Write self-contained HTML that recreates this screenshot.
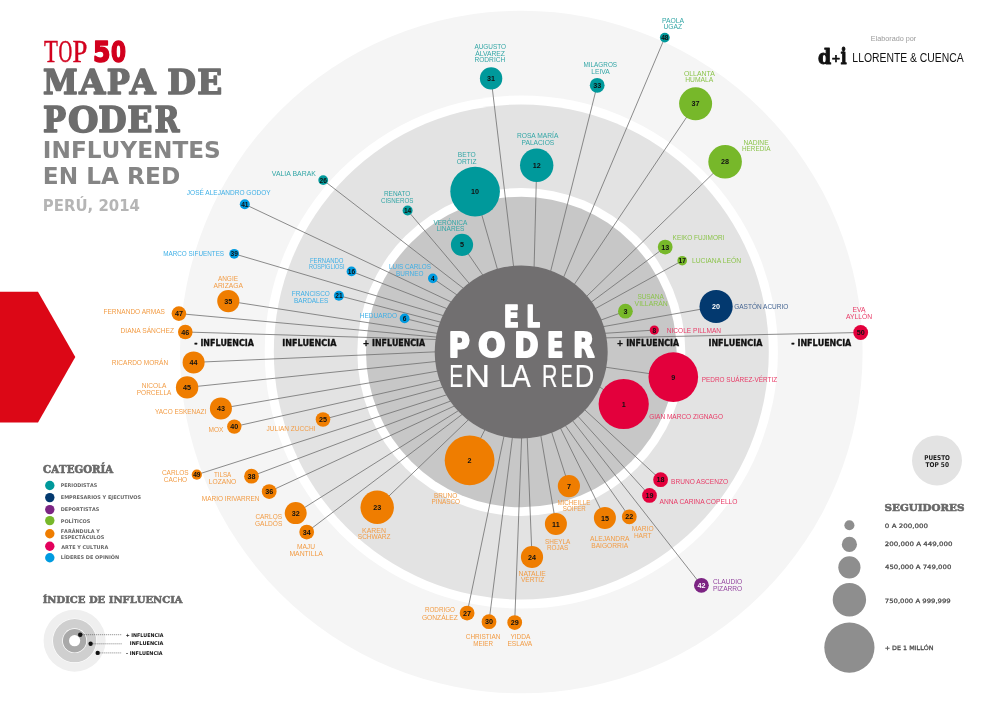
<!DOCTYPE html><html><head><meta charset="utf-8"><title>Mapa de Poder</title><style>html,body{margin:0;padding:0;background:#fff;}svg{display:block;will-change:transform}</style></head><body>
<svg width="1000" height="707" viewBox="0 0 1000 707">
<polygon points="0,291.8 38,291.8 75.3,357 38,422.5 0,422.5" fill="#dc0716"/>
<circle cx="521.3" cy="352" r="341.3" fill="#f5f5f5"/>
<circle cx="521.3" cy="352" r="256.6" fill="#ffffff"/>
<circle cx="521.3" cy="352" r="247.5" fill="#e3e3e3"/>
<circle cx="521.3" cy="352" r="164.0" fill="#ffffff"/>
<circle cx="521.3" cy="352" r="155.3" fill="#c7c7c7"/>
<g stroke="#6f6f6f" stroke-width="0.8" fill="none">
<line x1="491.1" y1="78.4" x2="514.5" y2="274.3"/>
<line x1="597.2" y1="85.3" x2="548.7" y2="279"/>
<line x1="664.8" y1="37.6" x2="560.5" y2="284.6"/>
<line x1="536.7" y1="165.3" x2="533.9" y2="275"/>
<line x1="475.1" y1="191.6" x2="499.7" y2="277.1"/>
<line x1="462" y1="244.8" x2="487.4" y2="281.8"/>
<line x1="407.6" y1="210.5" x2="474.5" y2="289.6"/>
<line x1="323.2" y1="180.1" x2="469.9" y2="293.3"/>
<line x1="695.6" y1="103.8" x2="569.9" y2="291"/>
<line x1="725.1" y1="161.8" x2="581" y2="301.8"/>
<line x1="665.2" y1="247.1" x2="584.9" y2="306.9"/>
<line x1="682.2" y1="260.7" x2="588.5" y2="312.4"/>
<line x1="625.4" y1="311.2" x2="593.6" y2="322.7"/>
<line x1="716.1" y1="306.5" x2="595.5" y2="328"/>
<line x1="654.3" y1="330.1" x2="597.2" y2="333.8"/>
<line x1="860.7" y1="332.5" x2="598" y2="338"/>
<line x1="673.3" y1="377.1" x2="598" y2="366.1"/>
<line x1="623.7" y1="404" x2="593.2" y2="382.2"/>
<line x1="660.6" y1="479.7" x2="579" y2="404.5"/>
<line x1="649.5" y1="495.4" x2="572.8" y2="410.6"/>
<line x1="701.4" y1="585.3" x2="567.8" y2="414.6"/>
<line x1="244.8" y1="204.3" x2="458.7" y2="305.5"/>
<line x1="234.2" y1="253.8" x2="451.1" y2="317.9"/>
<line x1="351.5" y1="271.4" x2="454.6" y2="311.6"/>
<line x1="338.9" y1="295.7" x2="448.4" y2="324.2"/>
<line x1="432.8" y1="278.4" x2="463.6" y2="299.5"/>
<line x1="404.6" y1="318.4" x2="446.8" y2="328.9"/>
<line x1="228.3" y1="301.1" x2="445.3" y2="334.6"/>
<line x1="178.9" y1="313.6" x2="444.6" y2="337.8"/>
<line x1="185.3" y1="332" x2="444.3" y2="339.7"/>
<line x1="193.6" y1="362.4" x2="443.3" y2="351.5"/>
<line x1="187.1" y1="387.4" x2="443.8" y2="360.7"/>
<line x1="220.9" y1="408.4" x2="445.4" y2="369.8"/>
<line x1="234.3" y1="426.6" x2="447.9" y2="378.5"/>
<line x1="323" y1="419.5" x2="450.6" y2="385"/>
<line x1="196.8" y1="474.7" x2="454.5" y2="392.3"/>
<line x1="251.5" y1="476.2" x2="458.4" y2="398.1"/>
<line x1="269.2" y1="491.6" x2="461.9" y2="402.5"/>
<line x1="295.7" y1="513.1" x2="465.3" y2="406.3"/>
<line x1="306.7" y1="532.1" x2="468.6" y2="409.5"/>
<line x1="377.2" y1="507.3" x2="474.2" y2="414.2"/>
<line x1="469.6" y1="460.3" x2="488.4" y2="422.7"/>
<line x1="568.9" y1="486.1" x2="549.3" y2="424.8"/>
<line x1="555.9" y1="523.9" x2="539.5" y2="427.8"/>
<line x1="532" y1="557" x2="526.9" y2="429.8"/>
<line x1="604.9" y1="517.9" x2="557.1" y2="421.3"/>
<line x1="629.3" y1="516.8" x2="560.9" y2="419.2"/>
<line x1="467.1" y1="613.1" x2="505.6" y2="428.4"/>
<line x1="489" y1="621.7" x2="513.4" y2="429.6"/>
<line x1="514.7" y1="622.6" x2="521.9" y2="430"/>
</g>
<circle cx="521.2" cy="351.9" r="86.5" fill="#716f70"/>
<circle cx="491.1" cy="78.4" r="11.2" fill="#00999b"/>
<circle cx="597.2" cy="85.3" r="7.4" fill="#00999b"/>
<circle cx="664.8" cy="37.6" r="4.9" fill="#00999b"/>
<circle cx="536.7" cy="165.3" r="16.7" fill="#00999b"/>
<circle cx="475.1" cy="191.6" r="24.8" fill="#00999b"/>
<circle cx="462" cy="244.8" r="11.1" fill="#00999b"/>
<circle cx="407.6" cy="210.5" r="5" fill="#00999b"/>
<circle cx="323.2" cy="180.1" r="4.9" fill="#00999b"/>
<circle cx="695.6" cy="103.8" r="16.5" fill="#77b82a"/>
<circle cx="725.1" cy="161.8" r="16.8" fill="#77b82a"/>
<circle cx="665.2" cy="247.1" r="7.4" fill="#77b82a"/>
<circle cx="682.2" cy="260.7" r="4.8" fill="#77b82a"/>
<circle cx="625.4" cy="311.2" r="7.4" fill="#77b82a"/>
<circle cx="716.1" cy="306.5" r="16.6" fill="#03396f"/>
<circle cx="654.3" cy="330.1" r="4.6" fill="#e3003c"/>
<circle cx="860.7" cy="332.5" r="7.4" fill="#e3003c"/>
<circle cx="673.3" cy="377.1" r="24.8" fill="#e3003c"/>
<circle cx="623.7" cy="404" r="25.1" fill="#e3003c"/>
<circle cx="660.6" cy="479.7" r="7.4" fill="#e3003c"/>
<circle cx="649.5" cy="495.4" r="7.4" fill="#e3003c"/>
<circle cx="701.4" cy="585.3" r="7.4" fill="#7c2483"/>
<circle cx="244.8" cy="204.3" r="5" fill="#009be0"/>
<circle cx="234.2" cy="253.8" r="4.9" fill="#009be0"/>
<circle cx="351.5" cy="271.4" r="4.9" fill="#009be0"/>
<circle cx="338.9" cy="295.7" r="5" fill="#009be0"/>
<circle cx="432.8" cy="278.4" r="4.8" fill="#009be0"/>
<circle cx="404.6" cy="318.4" r="4.9" fill="#009be0"/>
<circle cx="228.3" cy="301.1" r="11.1" fill="#ef7d00"/>
<circle cx="178.9" cy="313.6" r="7.3" fill="#ef7d00"/>
<circle cx="185.3" cy="332" r="7.3" fill="#ef7d00"/>
<circle cx="193.6" cy="362.4" r="11" fill="#ef7d00"/>
<circle cx="187.1" cy="387.4" r="11.2" fill="#ef7d00"/>
<circle cx="220.9" cy="408.4" r="11" fill="#ef7d00"/>
<circle cx="234.3" cy="426.6" r="7.2" fill="#ef7d00"/>
<circle cx="323" cy="419.5" r="7.3" fill="#ef7d00"/>
<circle cx="196.8" cy="474.7" r="5.1" fill="#ef7d00"/>
<circle cx="251.5" cy="476.2" r="7.4" fill="#ef7d00"/>
<circle cx="269.2" cy="491.6" r="7.4" fill="#ef7d00"/>
<circle cx="295.7" cy="513.1" r="11" fill="#ef7d00"/>
<circle cx="306.7" cy="532.1" r="7.4" fill="#ef7d00"/>
<circle cx="377.2" cy="507.3" r="16.7" fill="#ef7d00"/>
<circle cx="469.6" cy="460.3" r="24.9" fill="#ef7d00"/>
<circle cx="568.9" cy="486.1" r="11.1" fill="#ef7d00"/>
<circle cx="555.9" cy="523.9" r="11" fill="#ef7d00"/>
<circle cx="532" cy="557" r="11.1" fill="#ef7d00"/>
<circle cx="604.9" cy="517.9" r="11" fill="#ef7d00"/>
<circle cx="629.3" cy="516.8" r="7.4" fill="#ef7d00"/>
<circle cx="467.1" cy="613.1" r="7.4" fill="#ef7d00"/>
<circle cx="489" cy="621.7" r="7.4" fill="#ef7d00"/>
<circle cx="514.7" cy="622.6" r="7.4" fill="#ef7d00"/>
<g font-family="Liberation Sans, Arial, sans-serif" font-weight="bold" text-anchor="middle">
<text x="491.1" y="81" font-size="7.2" fill="#111">31</text>
<text x="597.2" y="87.9" font-size="7.2" fill="#111">33</text>
<text x="664.8" y="40" font-size="6.6" fill="#111">48</text>
<text x="536.7" y="167.9" font-size="7.2" fill="#111">12</text>
<text x="475.1" y="194.2" font-size="7.2" fill="#111">10</text>
<text x="462" y="247.4" font-size="7.2" fill="#111">5</text>
<text x="407.6" y="212.9" font-size="6.6" fill="#111">14</text>
<text x="323.2" y="182.5" font-size="6.6" fill="#111">26</text>
<text x="695.6" y="106.4" font-size="7.2" fill="#111">37</text>
<text x="725.1" y="164.4" font-size="7.2" fill="#111">28</text>
<text x="665.2" y="249.7" font-size="7.2" fill="#111">13</text>
<text x="682.2" y="263.1" font-size="6.6" fill="#111">17</text>
<text x="625.4" y="313.8" font-size="7.2" fill="#111">3</text>
<text x="716.1" y="309.1" font-size="7.2" fill="#ffffff">20</text>
<text x="654.3" y="332.5" font-size="6.6" fill="#111">8</text>
<text x="860.7" y="335.1" font-size="7.2" fill="#111">50</text>
<text x="673.3" y="379.7" font-size="7.2" fill="#111">9</text>
<text x="623.7" y="406.6" font-size="7.2" fill="#111">1</text>
<text x="660.6" y="482.3" font-size="7.2" fill="#111">18</text>
<text x="649.5" y="498" font-size="7.2" fill="#111">19</text>
<text x="701.4" y="587.9" font-size="7.2" fill="#ffffff">42</text>
<text x="244.8" y="206.7" font-size="6.6" fill="#111">41</text>
<text x="234.2" y="256.2" font-size="6.6" fill="#111">39</text>
<text x="351.5" y="273.8" font-size="6.6" fill="#111">16</text>
<text x="338.9" y="298.1" font-size="6.6" fill="#111">21</text>
<text x="432.8" y="280.8" font-size="6.6" fill="#111">4</text>
<text x="404.6" y="320.8" font-size="6.6" fill="#111">6</text>
<text x="228.3" y="303.7" font-size="7.2" fill="#111">35</text>
<text x="178.9" y="316.2" font-size="7.2" fill="#111">47</text>
<text x="185.3" y="334.6" font-size="7.2" fill="#111">46</text>
<text x="193.6" y="365" font-size="7.2" fill="#111">44</text>
<text x="187.1" y="390" font-size="7.2" fill="#111">45</text>
<text x="220.9" y="411" font-size="7.2" fill="#111">43</text>
<text x="234.3" y="429.2" font-size="7.2" fill="#111">40</text>
<text x="323" y="422.1" font-size="7.2" fill="#111">25</text>
<text x="196.8" y="477.1" font-size="6.6" fill="#111">49</text>
<text x="251.5" y="478.8" font-size="7.2" fill="#111">38</text>
<text x="269.2" y="494.2" font-size="7.2" fill="#111">36</text>
<text x="295.7" y="515.7" font-size="7.2" fill="#111">32</text>
<text x="306.7" y="534.7" font-size="7.2" fill="#111">34</text>
<text x="377.2" y="509.9" font-size="7.2" fill="#111">23</text>
<text x="469.6" y="462.9" font-size="7.2" fill="#111">2</text>
<text x="568.9" y="488.7" font-size="7.2" fill="#111">7</text>
<text x="555.9" y="526.5" font-size="7.2" fill="#111">11</text>
<text x="532" y="559.6" font-size="7.2" fill="#111">24</text>
<text x="604.9" y="520.5" font-size="7.2" fill="#111">15</text>
<text x="629.3" y="519.4" font-size="7.2" fill="#111">22</text>
<text x="467.1" y="615.7" font-size="7.2" fill="#111">27</text>
<text x="489" y="624.3" font-size="7.2" fill="#111">30</text>
<text x="514.7" y="625.2" font-size="7.2" fill="#111">29</text>
</g>
<g font-family="Liberation Sans, Arial, sans-serif" font-size="6.6">
<text x="474.4" y="48.8" textLength="31.7" lengthAdjust="spacingAndGlyphs" fill="#33a6a6">AUGUSTO</text>
<text x="475.2" y="56" textLength="29.8" lengthAdjust="spacingAndGlyphs" fill="#33a6a6">ÁLVAREZ</text>
<text x="474.4" y="62.4" textLength="30.9" lengthAdjust="spacingAndGlyphs" fill="#33a6a6">RODRICH</text>
<text x="583.5" y="66.9" textLength="33.6" lengthAdjust="spacingAndGlyphs" fill="#33a6a6">MILAGROS</text>
<text x="591.2" y="73.6" textLength="18.6" lengthAdjust="spacingAndGlyphs" fill="#33a6a6">LEIVA</text>
<text x="661.9" y="22.6" textLength="22.1" lengthAdjust="spacingAndGlyphs" fill="#33a6a6">PAOLA</text>
<text x="663.5" y="29.2" textLength="18.7" lengthAdjust="spacingAndGlyphs" fill="#33a6a6">UGAZ</text>
<text x="516.9" y="137.8" textLength="41.5" lengthAdjust="spacingAndGlyphs" fill="#33a6a6">ROSA MARÍA</text>
<text x="521.5" y="144.5" textLength="32.8" lengthAdjust="spacingAndGlyphs" fill="#33a6a6">PALACIOS</text>
<text x="457.8" y="156.7" textLength="18" lengthAdjust="spacingAndGlyphs" fill="#33a6a6">BETO</text>
<text x="456.8" y="163.7" textLength="19.7" lengthAdjust="spacingAndGlyphs" fill="#33a6a6">ORTIZ</text>
<text x="433.4" y="224.6" textLength="33.9" lengthAdjust="spacingAndGlyphs" fill="#33a6a6">VERÓNICA</text>
<text x="436.4" y="231.2" textLength="28.1" lengthAdjust="spacingAndGlyphs" fill="#33a6a6">LINARES</text>
<text x="383.9" y="196" textLength="26.5" lengthAdjust="spacingAndGlyphs" fill="#33a6a6">RENATO</text>
<text x="380.9" y="203" textLength="32.5" lengthAdjust="spacingAndGlyphs" fill="#33a6a6">CISNEROS</text>
<text x="271.8" y="176.4" textLength="44.1" lengthAdjust="spacingAndGlyphs" fill="#33a6a6">VALIA BARAK</text>
<text x="683.9" y="75.8" textLength="30.9" lengthAdjust="spacingAndGlyphs" fill="#8cc44c">OLLANTA</text>
<text x="685.2" y="82.4" textLength="28.1" lengthAdjust="spacingAndGlyphs" fill="#8cc44c">HUMALA</text>
<text x="743.5" y="144.7" textLength="25.1" lengthAdjust="spacingAndGlyphs" fill="#8cc44c">NADINE</text>
<text x="742" y="151.4" textLength="28.4" lengthAdjust="spacingAndGlyphs" fill="#8cc44c">HEREDIA</text>
<text x="672.6" y="239.9" textLength="51.8" lengthAdjust="spacingAndGlyphs" fill="#8cc44c">KEIKO FUJIMORI</text>
<text x="692" y="263" textLength="49.1" lengthAdjust="spacingAndGlyphs" fill="#8cc44c">LUCIANA LEÓN</text>
<text x="637.4" y="299.2" textLength="26.4" lengthAdjust="spacingAndGlyphs" fill="#8cc44c">SUSANA</text>
<text x="634.6" y="305.9" textLength="33.1" lengthAdjust="spacingAndGlyphs" fill="#8cc44c">VILLARÁN</text>
<text x="734.2" y="309.1" textLength="54.2" lengthAdjust="spacingAndGlyphs" fill="#456592">GASTÓN ACURIO</text>
<text x="666.8" y="333" textLength="54.3" lengthAdjust="spacingAndGlyphs" fill="#e83a66">NICOLE PILLMAN</text>
<text x="852.5" y="312.4" textLength="13" lengthAdjust="spacingAndGlyphs" fill="#e83a66">EVA</text>
<text x="846" y="319.3" textLength="26" lengthAdjust="spacingAndGlyphs" fill="#e83a66">AYLLÓN</text>
<text x="701.8" y="381.5" textLength="75.4" lengthAdjust="spacingAndGlyphs" fill="#e83a66">PEDRO SUÁREZ-VÉRTIZ</text>
<text x="649.2" y="419.2" textLength="73.8" lengthAdjust="spacingAndGlyphs" fill="#e83a66">GIAN MARCO ZIGNAGO</text>
<text x="671.1" y="484.2" textLength="56.9" lengthAdjust="spacingAndGlyphs" fill="#e83a66">BRUNO ASCENZO</text>
<text x="659.5" y="503.5" textLength="78" lengthAdjust="spacingAndGlyphs" fill="#e83a66">ANNA CARINA COPELLO</text>
<text x="712.9" y="583.6" textLength="29.3" lengthAdjust="spacingAndGlyphs" fill="#9446a0">CLAUDIO</text>
<text x="712.9" y="590.6" textLength="29.3" lengthAdjust="spacingAndGlyphs" fill="#9446a0">PIZARRO</text>
<text x="186.8" y="194.6" textLength="83.9" lengthAdjust="spacingAndGlyphs" fill="#3eafe6">JOSÉ ALEJANDRO GODOY</text>
<text x="163.2" y="256.1" textLength="60.9" lengthAdjust="spacingAndGlyphs" fill="#3eafe6">MARCO SIFUENTES</text>
<text x="309.9" y="262.5" textLength="33.6" lengthAdjust="spacingAndGlyphs" fill="#3eafe6">FERNANDO</text>
<text x="308.9" y="269.1" textLength="35.7" lengthAdjust="spacingAndGlyphs" fill="#3eafe6">ROSPIGLIOSI</text>
<text x="291.8" y="296.1" textLength="38.1" lengthAdjust="spacingAndGlyphs" fill="#3eafe6">FRANCISCO</text>
<text x="293.9" y="302.5" textLength="34.4" lengthAdjust="spacingAndGlyphs" fill="#3eafe6">BARDALES</text>
<text x="389.1" y="269.1" textLength="41.9" lengthAdjust="spacingAndGlyphs" fill="#3eafe6">LUIS CARLOS</text>
<text x="396.1" y="275.8" textLength="27.4" lengthAdjust="spacingAndGlyphs" fill="#3eafe6">BURNEO</text>
<text x="359.8" y="317.8" textLength="37.3" lengthAdjust="spacingAndGlyphs" fill="#3eafe6">HEDUARDO</text>
<text x="217.9" y="281.4" textLength="20.1" lengthAdjust="spacingAndGlyphs" fill="#f29c45">ANGIE</text>
<text x="213.4" y="288" textLength="29.6" lengthAdjust="spacingAndGlyphs" fill="#f29c45">ARIZAGA</text>
<text x="103.5" y="314.4" textLength="61.4" lengthAdjust="spacingAndGlyphs" fill="#f29c45">FERNANDO ARMAS</text>
<text x="120.5" y="333.3" textLength="53.5" lengthAdjust="spacingAndGlyphs" fill="#f29c45">DIANA SÁNCHEZ</text>
<text x="111.8" y="365.2" textLength="56.3" lengthAdjust="spacingAndGlyphs" fill="#f29c45">RICARDO MORÁN</text>
<text x="141.8" y="388.3" textLength="24.5" lengthAdjust="spacingAndGlyphs" fill="#f29c45">NICOLA</text>
<text x="136.8" y="395" textLength="34.5" lengthAdjust="spacingAndGlyphs" fill="#f29c45">PORCELLA</text>
<text x="154.9" y="413.8" textLength="51.4" lengthAdjust="spacingAndGlyphs" fill="#f29c45">YACO ESKENAZI</text>
<text x="208.6" y="432.3" textLength="14.8" lengthAdjust="spacingAndGlyphs" fill="#f29c45">MOX</text>
<text x="266.6" y="430.8" textLength="48.9" lengthAdjust="spacingAndGlyphs" fill="#f29c45">JULIAN ZUCCHI</text>
<text x="161.9" y="475.1" textLength="26.8" lengthAdjust="spacingAndGlyphs" fill="#f29c45">CARLOS</text>
<text x="163.8" y="481.6" textLength="23.3" lengthAdjust="spacingAndGlyphs" fill="#f29c45">CACHO</text>
<text x="213.9" y="477.1" textLength="17.4" lengthAdjust="spacingAndGlyphs" fill="#f29c45">TILSA</text>
<text x="208.8" y="483.9" textLength="27.4" lengthAdjust="spacingAndGlyphs" fill="#f29c45">LOZANO</text>
<text x="201.8" y="501.2" textLength="57.6" lengthAdjust="spacingAndGlyphs" fill="#f29c45">MARIO IRIVARREN</text>
<text x="255.4" y="518.8" textLength="26.6" lengthAdjust="spacingAndGlyphs" fill="#f29c45">CARLOS</text>
<text x="254.9" y="525.7" textLength="27.5" lengthAdjust="spacingAndGlyphs" fill="#f29c45">GALDÓS</text>
<text x="296.9" y="548.5" textLength="18.1" lengthAdjust="spacingAndGlyphs" fill="#f29c45">MAJU</text>
<text x="289.4" y="555.5" textLength="33.5" lengthAdjust="spacingAndGlyphs" fill="#f29c45">MANTILLA</text>
<text x="362.1" y="532.7" textLength="23.8" lengthAdjust="spacingAndGlyphs" fill="#f29c45">KAREN</text>
<text x="357.8" y="539.2" textLength="32.7" lengthAdjust="spacingAndGlyphs" fill="#f29c45">SCHWARZ</text>
<text x="434.1" y="497.6" textLength="23" lengthAdjust="spacingAndGlyphs" fill="#f29c45">BRUNO</text>
<text x="431.4" y="504.4" textLength="28.7" lengthAdjust="spacingAndGlyphs" fill="#f29c45">PINASCO</text>
<text x="557.4" y="504.8" textLength="32.9" lengthAdjust="spacingAndGlyphs" fill="#f29c45">MICHEILLE</text>
<text x="562.8" y="511.1" textLength="23" lengthAdjust="spacingAndGlyphs" fill="#f29c45">SOIFER</text>
<text x="545.1" y="544" textLength="25.3" lengthAdjust="spacingAndGlyphs" fill="#f29c45">SHEYLA</text>
<text x="547" y="550.1" textLength="21.2" lengthAdjust="spacingAndGlyphs" fill="#f29c45">ROJAS</text>
<text x="518.6" y="576" textLength="27.2" lengthAdjust="spacingAndGlyphs" fill="#f29c45">NATALIE</text>
<text x="521" y="582.4" textLength="23.2" lengthAdjust="spacingAndGlyphs" fill="#f29c45">VÉRTIZ</text>
<text x="590.1" y="540.8" textLength="39.4" lengthAdjust="spacingAndGlyphs" fill="#f29c45">ALEJANDRA</text>
<text x="591.2" y="547.5" textLength="37" lengthAdjust="spacingAndGlyphs" fill="#f29c45">BAIGORRIA</text>
<text x="631.8" y="530.9" textLength="21.8" lengthAdjust="spacingAndGlyphs" fill="#f29c45">MARIO</text>
<text x="633.9" y="537.6" textLength="17.6" lengthAdjust="spacingAndGlyphs" fill="#f29c45">HART</text>
<text x="424.9" y="612.4" textLength="30.1" lengthAdjust="spacingAndGlyphs" fill="#f29c45">RODRIGO</text>
<text x="421.9" y="619.5" textLength="36" lengthAdjust="spacingAndGlyphs" fill="#f29c45">GONZÁLEZ</text>
<text x="465.8" y="639" textLength="34.7" lengthAdjust="spacingAndGlyphs" fill="#f29c45">CHRISTIAN</text>
<text x="473.2" y="645.5" textLength="19.8" lengthAdjust="spacingAndGlyphs" fill="#f29c45">MEIER</text>
<text x="510.4" y="639" textLength="20" lengthAdjust="spacingAndGlyphs" fill="#f29c45">YIDDA</text>
<text x="507.4" y="645.5" textLength="24.9" lengthAdjust="spacingAndGlyphs" fill="#f29c45">ESLAVA</text>
</g>
<text transform="translate(194.35 345.82) scale(0.9557 1)" font-family="DejaVu Sans, sans-serif" font-weight="bold" font-size="8.299" fill="#111111" style="font-kerning:none" stroke="#111111" stroke-width="0.35" stroke-linejoin="round">- INFLUENCIA</text>
<text transform="translate(282.24 345.82) scale(0.9693 1)" font-family="DejaVu Sans, sans-serif" font-weight="bold" font-size="8.299" fill="#111111" style="font-kerning:none" stroke="#111111" stroke-width="0.35" stroke-linejoin="round">INFLUENCIA</text>
<text transform="translate(362.74 345.82) scale(0.9504 1)" font-family="DejaVu Sans, sans-serif" font-weight="bold" font-size="8.299" fill="#111111" style="font-kerning:none" stroke="#111111" stroke-width="0.35" stroke-linejoin="round">+ INFLUENCIA</text>
<text transform="translate(616.84 345.82) scale(0.9458 1)" font-family="DejaVu Sans, sans-serif" font-weight="bold" font-size="8.299" fill="#111111" style="font-kerning:none" stroke="#111111" stroke-width="0.35" stroke-linejoin="round">+ INFLUENCIA</text>
<text transform="translate(708.44 345.82) scale(0.9657 1)" font-family="DejaVu Sans, sans-serif" font-weight="bold" font-size="8.299" fill="#111111" style="font-kerning:none" stroke="#111111" stroke-width="0.35" stroke-linejoin="round">INFLUENCIA</text>
<text transform="translate(791.34 345.82) scale(0.9638 1)" font-family="DejaVu Sans, sans-serif" font-weight="bold" font-size="8.299" fill="#111111" style="font-kerning:none" stroke="#111111" stroke-width="0.35" stroke-linejoin="round">- INFLUENCIA</text>
<g>
<text transform="translate(503.64 327.20) scale(0.7628 1)" font-family="DejaVu Sans, sans-serif" font-weight="bold" font-size="29.355" fill="#ffffff" style="font-kerning:none" stroke="#ffffff" stroke-width="1.60" stroke-linejoin="round">E</text>
<text transform="translate(526.22 327.20) scale(0.7365 1)" font-family="DejaVu Sans, sans-serif" font-weight="bold" font-size="29.355" fill="#ffffff" style="font-kerning:none" stroke="#ffffff" stroke-width="1.60" stroke-linejoin="round">L</text>
<text transform="translate(448.62 356.80) scale(0.8858 1)" font-family="DejaVu Sans, sans-serif" font-weight="bold" font-size="32.922" fill="#ffffff" style="font-kerning:none" stroke="#ffffff" stroke-width="2.00" stroke-linejoin="round">P</text>
<text transform="translate(477.99 356.80) scale(0.9842 1)" font-family="DejaVu Sans, sans-serif" font-weight="bold" font-size="32.922" fill="#ffffff" style="font-kerning:none" stroke="#ffffff" stroke-width="2.00" stroke-linejoin="round">O</text>
<text transform="translate(514.21 356.80) scale(0.8900 1)" font-family="DejaVu Sans, sans-serif" font-weight="bold" font-size="32.922" fill="#ffffff" style="font-kerning:none" stroke="#ffffff" stroke-width="2.00" stroke-linejoin="round">D</text>
<text transform="translate(547.00 356.80) scale(0.7270 1)" font-family="DejaVu Sans, sans-serif" font-weight="bold" font-size="32.922" fill="#ffffff" style="font-kerning:none" stroke="#ffffff" stroke-width="2.00" stroke-linejoin="round">E</text>
<text transform="translate(572.93 356.80) scale(0.8491 1)" font-family="DejaVu Sans, sans-serif" font-weight="bold" font-size="32.922" fill="#ffffff" style="font-kerning:none" stroke="#ffffff" stroke-width="2.00" stroke-linejoin="round">R</text>
<text transform="translate(449.37 387.20) scale(0.6548 1)" font-family="Liberation Sans, sans-serif" font-weight="normal" font-size="32.123" fill="#ffffff" style="font-kerning:none" stroke="#ffffff" stroke-width="0.20" stroke-linejoin="round">E</text>
<text transform="translate(464.39 387.20) scale(1.1035 1)" font-family="Liberation Sans, sans-serif" font-weight="normal" font-size="32.123" fill="#ffffff" style="font-kerning:none" stroke="#ffffff" stroke-width="0.20" stroke-linejoin="round">N</text>
<text transform="translate(499.73 387.20) scale(0.7484 1)" font-family="Liberation Sans, sans-serif" font-weight="normal" font-size="32.123" fill="#ffffff" style="font-kerning:none" stroke="#ffffff" stroke-width="0.20" stroke-linejoin="round">L</text>
<text transform="translate(511.84 387.20) scale(0.8873 1)" font-family="Liberation Sans, sans-serif" font-weight="normal" font-size="32.123" fill="#ffffff" style="font-kerning:none" stroke="#ffffff" stroke-width="0.20" stroke-linejoin="round">A</text>
<text transform="translate(542.05 387.20) scale(0.6659 1)" font-family="Liberation Sans, sans-serif" font-weight="normal" font-size="32.123" fill="#ffffff" style="font-kerning:none" stroke="#ffffff" stroke-width="0.20" stroke-linejoin="round">R</text>
<text transform="translate(560.82 387.20) scale(0.5629 1)" font-family="Liberation Sans, sans-serif" font-weight="normal" font-size="32.123" fill="#ffffff" style="font-kerning:none" stroke="#ffffff" stroke-width="0.20" stroke-linejoin="round">E</text>
<text transform="translate(574.78 387.20) scale(0.8410 1)" font-family="Liberation Sans, sans-serif" font-weight="normal" font-size="32.123" fill="#ffffff" style="font-kerning:none" stroke="#ffffff" stroke-width="0.20" stroke-linejoin="round">D</text>
</g>
<text transform="translate(44.04 62.25) scale(0.7123 1)" font-family="Liberation Serif, serif" font-weight="normal" font-size="31.919" fill="#d2001e" style="font-kerning:none" stroke="#d2001e" stroke-width="0.50" stroke-linejoin="round">T</text>
<text transform="translate(58.57 62.25) scale(0.5971 1)" font-family="Liberation Serif, serif" font-weight="normal" font-size="31.919" fill="#d2001e" style="font-kerning:none" stroke="#d2001e" stroke-width="0.50" stroke-linejoin="round">O</text>
<text transform="translate(72.58 62.25) scale(0.8358 1)" font-family="Liberation Serif, serif" font-weight="normal" font-size="31.919" fill="#d2001e" style="font-kerning:none" stroke="#d2001e" stroke-width="0.50" stroke-linejoin="round">P</text>
<text transform="translate(93.06 61.80) scale(0.8813 1)" font-family="DejaVu Sans, sans-serif" font-weight="bold" font-size="28.532" fill="#d2001e" style="font-kerning:none" stroke="#d2001e" stroke-width="1.60" stroke-linejoin="round">5</text>
<text transform="translate(111.07 61.80) scale(0.7534 1)" font-family="DejaVu Sans, sans-serif" font-weight="bold" font-size="28.532" fill="#d2001e" style="font-kerning:none" stroke="#d2001e" stroke-width="1.60" stroke-linejoin="round">0</text>
<text transform="translate(43.08 94.20) scale(0.9174 1)" font-family="DejaVu Serif, serif" font-weight="bold" font-size="34.156" fill="#6d6d6d" style="font-kerning:none" stroke="#6d6d6d" stroke-width="1.60" stroke-linejoin="round">M</text>
<text transform="translate(79.16 94.20) scale(0.9834 1)" font-family="DejaVu Serif, serif" font-weight="bold" font-size="34.156" fill="#6d6d6d" style="font-kerning:none" stroke="#6d6d6d" stroke-width="1.60" stroke-linejoin="round">A</text>
<text transform="translate(106.66 94.20) scale(0.8996 1)" font-family="DejaVu Serif, serif" font-weight="bold" font-size="34.156" fill="#6d6d6d" style="font-kerning:none" stroke="#6d6d6d" stroke-width="1.60" stroke-linejoin="round">P</text>
<text transform="translate(129.66 94.20) scale(0.9760 1)" font-family="DejaVu Serif, serif" font-weight="bold" font-size="34.156" fill="#6d6d6d" style="font-kerning:none" stroke="#6d6d6d" stroke-width="1.60" stroke-linejoin="round">A</text>
<text transform="translate(167.35 94.20) scale(0.9667 1)" font-family="DejaVu Serif, serif" font-weight="bold" font-size="34.156" fill="#6d6d6d" style="font-kerning:none" stroke="#6d6d6d" stroke-width="1.60" stroke-linejoin="round">D</text>
<text transform="translate(197.37 94.20) scale(0.9567 1)" font-family="DejaVu Serif, serif" font-weight="bold" font-size="34.156" fill="#6d6d6d" style="font-kerning:none" stroke="#6d6d6d" stroke-width="1.60" stroke-linejoin="round">E</text>
<text transform="translate(42.96 132.00) scale(0.8889 1)" font-family="DejaVu Serif, serif" font-weight="bold" font-size="34.568" fill="#6d6d6d" style="font-kerning:none" stroke="#6d6d6d" stroke-width="1.60" stroke-linejoin="round">P</text>
<text transform="translate(67.93 132.00) scale(1.0120 1)" font-family="DejaVu Serif, serif" font-weight="bold" font-size="34.568" fill="#6d6d6d" style="font-kerning:none" stroke="#6d6d6d" stroke-width="1.60" stroke-linejoin="round">O</text>
<text transform="translate(98.17 132.00) scale(0.9441 1)" font-family="DejaVu Serif, serif" font-weight="bold" font-size="34.568" fill="#6d6d6d" style="font-kerning:none" stroke="#6d6d6d" stroke-width="1.60" stroke-linejoin="round">D</text>
<text transform="translate(127.35 132.00) scale(0.9584 1)" font-family="DejaVu Serif, serif" font-weight="bold" font-size="34.568" fill="#6d6d6d" style="font-kerning:none" stroke="#6d6d6d" stroke-width="1.60" stroke-linejoin="round">E</text>
<text transform="translate(154.49 132.00) scale(0.8678 1)" font-family="DejaVu Serif, serif" font-weight="bold" font-size="34.568" fill="#6d6d6d" style="font-kerning:none" stroke="#6d6d6d" stroke-width="1.60" stroke-linejoin="round">R</text>
<text transform="translate(42.87 157.80) scale(1.0071 1)" font-family="DejaVu Sans, sans-serif" font-weight="bold" font-size="23.045" fill="#858585" style="font-kerning:none">INFLUYENTES</text>
<text transform="translate(42.87 184.20) scale(1.0144 1)" font-family="DejaVu Sans, sans-serif" font-weight="bold" font-size="22.908" fill="#858585" style="font-kerning:none">EN LA RED</text>
<text transform="translate(42.83 210.50) scale(0.9629 1)" font-family="DejaVu Sans, sans-serif" font-weight="bold" font-size="15.501" fill="#b5b5b5" style="font-kerning:none">PERÚ, 2014</text>
<text transform="translate(870.70 40.60) scale(1.0195 1)" font-family="Liberation Sans, sans-serif" font-weight="normal" font-size="7.122" fill="#9a9a9a" style="font-kerning:none">Elaborado por</text>
<text transform="translate(818.12 64.00) scale(0.8921 1)" font-family="DejaVu Serif, serif" font-weight="bold" font-size="21.191" fill="#111111" stroke="#111111" stroke-width="1.00" stroke-linejoin="round">d</text>
<text transform="translate(831.32 62.30) scale(1.0016 1)" font-family="DejaVu Sans, sans-serif" font-weight="bold" font-size="11.165" fill="#111111" stroke="#111111" stroke-width="0.60" stroke-linejoin="round">+</text>
<text transform="translate(840.44 64.40) scale(0.7562 1)" font-family="DejaVu Serif, serif" font-weight="bold" font-size="21.849" fill="#111111" stroke="#111111" stroke-width="0.80" stroke-linejoin="round">i</text>
<text transform="translate(852.35 61.60) scale(0.8721 1)" font-family="Liberation Sans, sans-serif" font-weight="normal" font-size="11.919" fill="#111111" style="font-kerning:none">LLORENTE &amp; CUENCA</text>
<circle cx="937" cy="460.4" r="25" fill="#e3e3e3"/>
<g font-family="DejaVu Sans, sans-serif" font-weight="bold" font-size="6.6" fill="#1a1a1a">
<text x="924.3" y="459.6" textLength="25.6" lengthAdjust="spacingAndGlyphs">PUESTO</text>
<text x="925.6" y="466.8" textLength="23.4" lengthAdjust="spacingAndGlyphs">TOP 50</text>
</g>
<text transform="translate(884.62 510.60) scale(1.1079 1)" font-family="DejaVu Serif, serif" font-weight="bold" font-size="9.328" fill="#6a6a6a" style="font-kerning:none" stroke="#6a6a6a" stroke-width="0.60" stroke-linejoin="round">SEGUIDORES</text>
<circle cx="849.4" cy="525.2" r="5.05" fill="#8e8e8e"/>
<circle cx="849.4" cy="544.4" r="7.6" fill="#8e8e8e"/>
<circle cx="849.4" cy="567.3" r="11.1" fill="#8e8e8e"/>
<circle cx="849.4" cy="599.7" r="16.7" fill="#8e8e8e"/>
<circle cx="849.4" cy="647.6" r="25.1" fill="#8e8e8e"/>
<text transform="translate(884.86 528.08) scale(1.1910 1)" font-family="DejaVu Sans, sans-serif" font-weight="normal" font-size="5.967" fill="#4a4a4a" style="font-kerning:none" stroke="#4a4a4a" stroke-width="0.25" stroke-linejoin="round">0 A 200,000</text>
<text transform="translate(884.81 545.67) scale(1.1854 1)" font-family="DejaVu Sans, sans-serif" font-weight="normal" font-size="5.967" fill="#4a4a4a" style="font-kerning:none" stroke="#4a4a4a" stroke-width="0.25" stroke-linejoin="round">200,000 A 449,000</text>
<text transform="translate(884.99 568.58) scale(1.1612 1)" font-family="DejaVu Sans, sans-serif" font-weight="normal" font-size="5.967" fill="#4a4a4a" style="font-kerning:none" stroke="#4a4a4a" stroke-width="0.25" stroke-linejoin="round">450,000 A 749,000</text>
<text transform="translate(884.76 602.98) scale(1.1533 1)" font-family="DejaVu Sans, sans-serif" font-weight="normal" font-size="5.967" fill="#4a4a4a" style="font-kerning:none" stroke="#4a4a4a" stroke-width="0.25" stroke-linejoin="round">750,000 A 999,999</text>
<text transform="translate(884.65 649.58) scale(1.0744 1)" font-family="DejaVu Sans, sans-serif" font-weight="normal" font-size="5.967" fill="#4a4a4a" style="font-kerning:none" stroke="#4a4a4a" stroke-width="0.25" stroke-linejoin="round">+ DE 1 MILLÓN</text>
<text transform="translate(43.07 473.40) scale(0.9909 1)" font-family="DejaVu Serif, serif" font-weight="bold" font-size="10.288" fill="#6a6a6a" style="font-kerning:none" stroke="#6a6a6a" stroke-width="0.60" stroke-linejoin="round">CATEGORÍA</text>
<circle cx="49.8" cy="485.5" r="4.7" fill="#00999b"/>
<text transform="translate(60.75 487.00) scale(0.9581 1)" font-family="DejaVu Sans, sans-serif" font-weight="bold" font-size="5.075" fill="#666666" style="font-kerning:none">PERIODISTAS</text>
<circle cx="49.8" cy="497.6" r="4.7" fill="#03396f"/>
<text transform="translate(60.74 499.40) scale(0.9821 1)" font-family="DejaVu Sans, sans-serif" font-weight="bold" font-size="5.075" fill="#666666" style="font-kerning:none">EMPRESARIOS Y EJECUTIVOS</text>
<circle cx="49.8" cy="509.6" r="4.7" fill="#7c2483"/>
<text transform="translate(60.75 510.80) scale(0.9733 1)" font-family="DejaVu Sans, sans-serif" font-weight="bold" font-size="5.075" fill="#666666" style="font-kerning:none">DEPORTISTAS</text>
<circle cx="49.8" cy="520.6" r="4.7" fill="#77b82a"/>
<text transform="translate(60.74 522.60) scale(0.9842 1)" font-family="DejaVu Sans, sans-serif" font-weight="bold" font-size="5.075" fill="#666666" style="font-kerning:none">POLÍTICOS</text>
<circle cx="49.8" cy="533.7" r="4.7" fill="#ef7d00"/>
<text transform="translate(60.75 532.60) scale(0.9700 1)" font-family="DejaVu Sans, sans-serif" font-weight="bold" font-size="5.075" fill="#666666" style="font-kerning:none">FARÁNDULA Y</text>
<text transform="translate(60.74 538.80) scale(0.9831 1)" font-family="DejaVu Sans, sans-serif" font-weight="bold" font-size="5.075" fill="#666666" style="font-kerning:none">ESPECTÁCULOS</text>
<circle cx="49.8" cy="546.2" r="4.7" fill="#e3005c"/>
<text transform="translate(61.18 548.90) scale(0.9706 1)" font-family="DejaVu Sans, sans-serif" font-weight="bold" font-size="5.075" fill="#666666" style="font-kerning:none">ARTE Y CULTURA</text>
<circle cx="49.8" cy="557.8" r="4.7" fill="#009be0"/>
<text transform="translate(60.74 559.00) scale(0.9841 1)" font-family="DejaVu Sans, sans-serif" font-weight="bold" font-size="5.075" fill="#666666" style="font-kerning:none">LÍDERES DE OPINIÓN</text>
<text transform="translate(42.63 602.70) scale(1.0148 1)" font-family="DejaVu Serif, serif" font-weight="bold" font-size="9.876" fill="#6a6a6a" style="font-kerning:none" stroke="#6a6a6a" stroke-width="0.60" stroke-linejoin="round">ÍNDICE DE INFLUENCIA</text>
<circle cx="74.6" cy="640.7" r="31" fill="#efefef"/>
<circle cx="74.6" cy="640.7" r="22.2" fill="#ffffff"/>
<circle cx="74.6" cy="640.7" r="21.6" fill="#cfcfcf"/>
<circle cx="74.6" cy="640.7" r="12.4" fill="#ffffff"/>
<circle cx="74.6" cy="640.7" r="11.7" fill="#a9a9a9"/>
<circle cx="74.6" cy="640.7" r="5.6" fill="#ffffff"/>
<g stroke="#333" stroke-width="0.6" stroke-dasharray="1,1">
<line x1="80.2" y1="634.7" x2="121.8" y2="634.7"/>
<line x1="90.6" y1="643.8" x2="121.8" y2="643.8"/>
<line x1="97.7" y1="652.9" x2="121.8" y2="652.9"/>
</g>
<circle cx="80.2" cy="634.7" r="2.2" fill="#111"/>
<circle cx="90.6" cy="643.8" r="2.2" fill="#111"/>
<circle cx="97.7" cy="652.9" r="2.2" fill="#111"/>
<text transform="translate(125.69 636.60) scale(0.9155 1)" font-family="DejaVu Sans, sans-serif" font-weight="bold" font-size="5.213" fill="#111111" style="font-kerning:none">+ INFLUENCIA</text>
<text transform="translate(129.84 645.40) scale(0.9586 1)" font-family="DejaVu Sans, sans-serif" font-weight="bold" font-size="5.213" fill="#111111" style="font-kerning:none">INFLUENCIA</text>
<text transform="translate(125.94 654.50) scale(0.9379 1)" font-family="DejaVu Sans, sans-serif" font-weight="bold" font-size="5.213" fill="#111111" style="font-kerning:none">- INFLUENCIA</text>
</svg></body></html>
